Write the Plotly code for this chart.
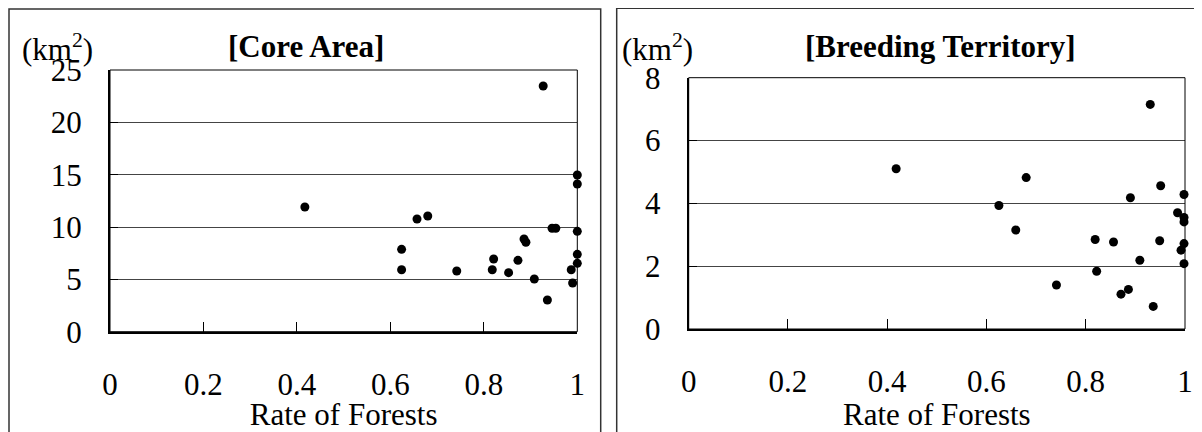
import plotly.graph_objects as go

# Browser body margin (8px) is compensated: figure drawn 8px smaller, coords shifted.
OFF = 8
W, H = 1202 - OFF, 432 - OFF

# Core Area panel data (rate of forests vs area km2)
core_rate = [0.417, 0.624, 0.624, 0.657, 0.680, 0.742, 0.818, 0.821, 0.853, 0.873,
             0.886, 0.890, 0.908, 0.927, 0.936, 0.946, 0.954, 0.987, 0.990,
             1.0, 1.0, 1.0, 1.0, 1.0]
core_area = [11.91, 7.87, 5.92, 10.77, 11.05, 5.80, 5.92, 6.94, 5.64, 6.82,
             8.86, 8.54, 5.03, 23.47, 3.03, 9.88, 9.88, 5.92, 4.65,
             14.97, 14.11, 9.59, 7.39, 6.53]

# Breeding Territory panel data
breed_rate = [0.418, 0.625, 0.659, 0.680, 0.741, 0.819, 0.822, 0.856, 0.871, 0.886,
              0.890, 0.909, 0.930, 0.936, 0.949, 0.951, 0.985, 0.992,
              0.998, 0.998, 0.998, 0.998, 0.998]
breed_area = [5.10, 3.93, 3.15, 4.82, 1.40, 2.85, 1.84, 2.77, 1.11, 1.26,
              4.18, 2.19, 7.15, 0.72, 2.81, 4.56, 3.70, 2.51,
              4.28, 3.55, 3.41, 2.72, 2.08]

x_ticks = [0, 0.2, 0.4, 0.6, 0.8, 1]
core_yticks = [0, 5, 10, 15, 20, 25]
breed_yticks = [0, 2, 4, 6, 8]

FONT = "Liberation Serif"
FS = 31

fig = go.Figure()
fig.add_trace(go.Scatter(x=core_rate, y=core_area, mode="markers",
                         marker=dict(color="black", size=9), cliponaxis=False,
                         xaxis="x", yaxis="y", showlegend=False))
fig.add_trace(go.Scatter(x=breed_rate, y=breed_area, mode="markers",
                         marker=dict(color="black", size=9), cliponaxis=False,
                         xaxis="x2", yaxis="y2", showlegend=False))

def px_x(p):
    return (p - OFF) / W

def px_y(p):
    return (H - (p - OFF)) / H

xcommon = dict(range=[0, 1], tickvals=x_ticks, ticks="inside", ticklen=10,
               tickcolor="black", tickwidth=1, showline=True, linecolor="black",
               linewidth=2, showgrid=False, zeroline=False, automargin=False,
               tickfont=dict(family=FONT, size=FS, color="black"),
               ticklabelstandoff=24,
               title=dict(text="Rate of Forests", font=dict(family=FONT, size=FS, color="black"),
                          standoff=0))
ycommon = dict(ticks="inside", ticklen=8, tickcolor="black", tickwidth=1,
               showline=True, linecolor="black", linewidth=2, automargin=False,
               showgrid=True, gridcolor="#444444", gridwidth=1, zeroline=False,
               tickfont=dict(family=FONT, size=FS, color="black"),
               ticklabelstandoff=20)

fig.update_layout(
    width=W, height=H,
    margin=dict(l=0, r=0, t=0, b=0, pad=0),
    paper_bgcolor="white", plot_bgcolor="white",
    font=dict(family=FONT, color="black"),
    xaxis=dict(domain=[px_x(110), px_x(577.3)], anchor="y", **xcommon),
    yaxis=dict(domain=[px_y(331.7), px_y(70)], anchor="x", range=[0, 25],
               tickvals=core_yticks, **ycommon),
    xaxis2=dict(domain=[px_x(688.7), px_x(1185)], anchor="y2", **xcommon),
    yaxis2=dict(domain=[px_y(329), px_y(77.7)], anchor="x2", range=[0, 8],
                tickvals=breed_yticks, **ycommon),
)

shapes = [
    # outer panel frames
    dict(type="rect", xref="paper", yref="paper", x0=px_x(9), x1=px_x(600.7),
         y0=-0.05, y1=px_y(9), line=dict(color="#333333", width=1.5)),
    dict(type="rect", xref="paper", yref="paper", x0=px_x(616.7), x1=1.05,
         y0=-0.05, y1=px_y(8.3), line=dict(color="#333333", width=1.5)),
    # thin plot borders
    dict(type="rect", xref="x domain", yref="y domain", x0=0, x1=1, y0=0, y1=1,
         line=dict(color="black", width=1), layer="above"),
    dict(type="rect", xref="x2 domain", yref="y2 domain", x0=0, x1=1, y0=0, y1=1,
         line=dict(color="black", width=1), layer="above"),
]
fig.update_layout(shapes=shapes)

ann = []
for cx, text in [(57, "(km<sup>2</sup>)"), (657, "(km<sup>2</sup>)")]:
    ann.append(dict(x=px_x(cx), y=px_y(48), xref="paper", yref="paper",
                    text=text, showarrow=False, xanchor="center", yanchor="middle",
                    font=dict(family=FONT, size=FS, color="black")))
for cx, text in [(305.5, "<b>[Core Area]</b>"), (940.5, "<b>[Breeding Territory]</b>")]:
    ann.append(dict(x=px_x(cx), y=px_y(47), xref="paper", yref="paper",
                    text=text, showarrow=False, xanchor="center", yanchor="middle",
                    font=dict(family=FONT, size=FS, color="black")))
fig.update_layout(annotations=ann)

fig.write_html("out.html")
